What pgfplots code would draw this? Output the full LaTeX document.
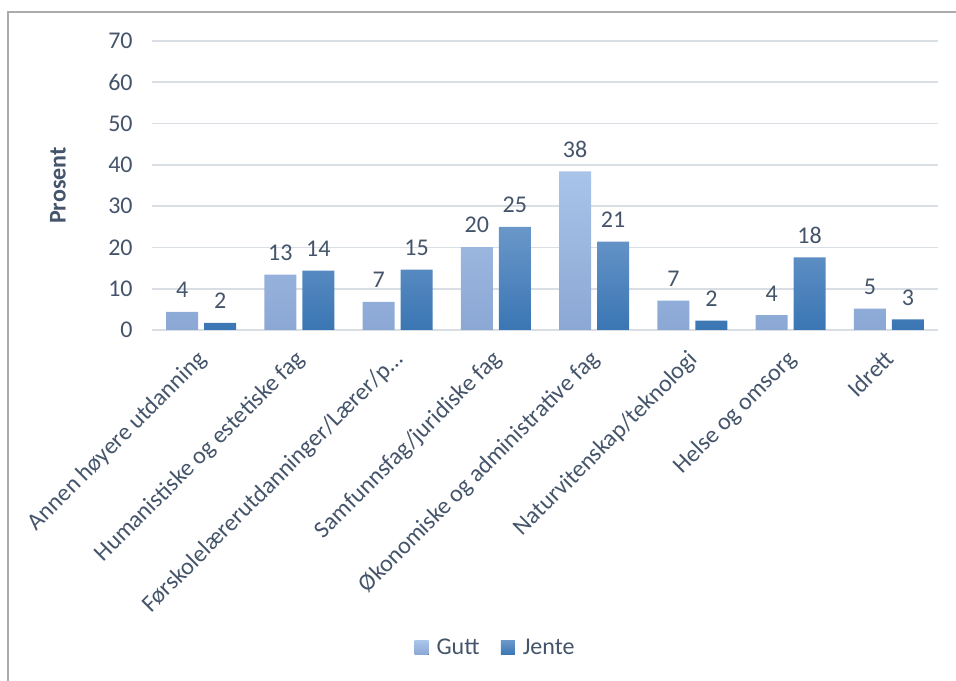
\documentclass[border=0pt]{standalone}
\usepackage{pgfplots}
\pgfplotsset{compat=1.18}
\usepackage{fontspec}
\setmainfont{Carlito}
\definecolor{txt}{HTML}{44546A}
\definecolor{gridc}{HTML}{D9DEE5}
\definecolor{framec}{HTML}{ABABAB}
\definecolor{guttT}{HTML}{A9C4E9}
\definecolor{guttB}{HTML}{8BA7D4}
\definecolor{jenteT}{HTML}{6A97C9}
\definecolor{jenteB}{HTML}{3A76B4}
\newcommand{\fs}{\fontsize{18pt}{21pt}\selectfont}
\begin{document}
\begin{tikzpicture}
\useasboundingbox (0pt,0pt) rectangle (717pt,510.75pt);
\draw[framec, line width=1pt] (6pt,-2pt) -- (6pt,501.75pt) -- (720pt,501.75pt);
\begin{axis}[
  at={(114pt,263.25pt)}, anchor=south west,
  scale only axis, width=589.5pt, height=216.75pt,
  xmin=-0.5, xmax=7.5, ymin=0, ymax=70,
  ytick={0,10,...,70},
  xtick={0,...,7},
  xticklabels={Annen høyere utdanning, Humanistiske og estetiske fag, Førskolelærerutdanninger/Lærer/p…, Samfunnsfag/juridiske fag, Økonomiske og administrative fag, Naturvitenskap/teknologi, Helse og omsorg, Idrett},
  major tick length=0pt,
  axis line style={draw=none},
  ymajorgrids, grid style={gridc, line width=1.2pt},
  /pgf/number format/assume math mode=true,
  tick label style={font=\fs, text=txt},
  yticklabel style={xshift=-11pt},
  xticklabel style={xshift=-4pt, yshift=-9pt, rotate=45, anchor=north east},
  ylabel={\bfseries Prosent},
  ylabel style={font=\fs, text=txt, at={(axis description cs:-0.1196,0.5)}, anchor=center},
  ybar=4.5pt, bar width=24pt,
  point meta=explicit symbolic,
  nodes near coords={\pgfplotspointmeta},
  nodes near coords style={font=\fs, text=txt, anchor=south, yshift=7pt},
  legend style={at={(0.4375,-1.100)}, anchor=center, draw=none, fill=none,
    legend columns=2, font=\fs, text=txt,
    /tikz/every odd column/.append style={column sep=4pt},
    /tikz/every even column/.append style={column sep=14pt}},
  legend image code/.code={\fill[#1] (0pt,-5.25pt) rectangle (10.5pt,5.25pt);},
]
\addplot[draw=none, top color=guttT, bottom color=guttB] coordinates {
  (0,4.4) [4] (1,13.4) [13] (2,6.8) [7] (3,20.1) [20]
  (4,38.4) [38] (5,7.1) [7] (6,3.6) [4] (7,5.2) [5]};
\addplot[draw=none, top color=jenteT, bottom color=jenteB] coordinates {
  (0,1.7) [2] (1,14.4) [14] (2,14.6) [15] (3,25.0) [25]
  (4,21.4) [21] (5,2.3) [2] (6,17.6) [18] (7,2.6) [3]};
\legend{Gutt, Jente}
\end{axis}
\end{tikzpicture}
\end{document}
